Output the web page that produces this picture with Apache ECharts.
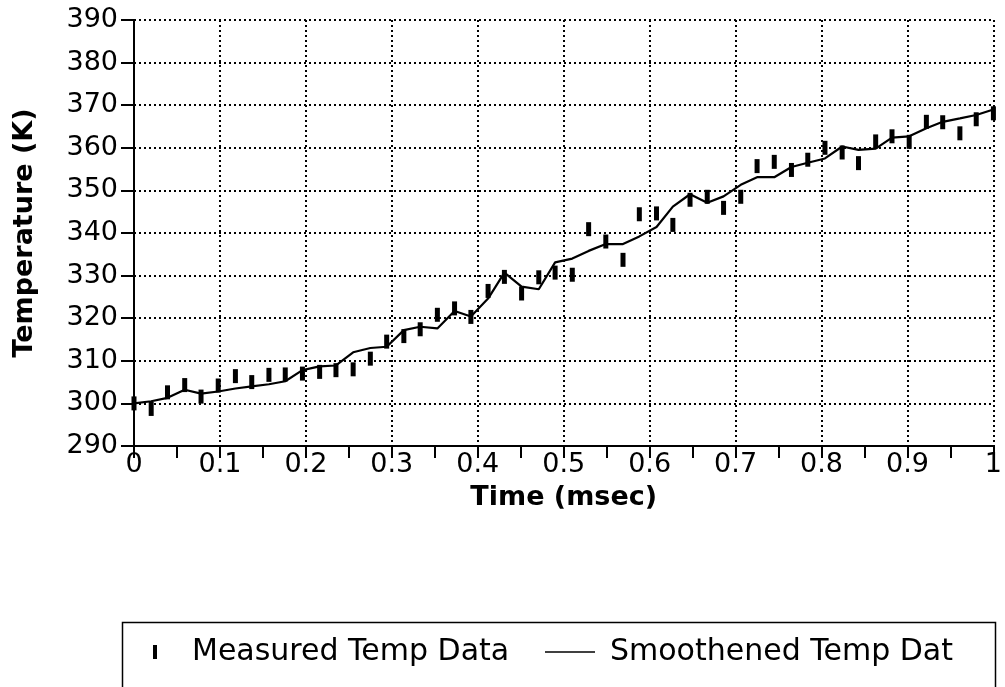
<!DOCTYPE html>
<html>
<head>
<meta charset="utf-8">
<script src="https://cdn.jsdelivr.net/npm/echarts@6/dist/echarts.min.js"></script>
<style>
html,body{margin:0;padding:0;background:#fff;}
#chart{width:1005px;height:687px;}
</style>
</head>
<body>
<div id="chart"></div>
<script>
// Time (msec) of each sample
const timeMs = [0.000,0.020,0.039,0.059,0.078,0.098,0.118,0.137,0.157,0.176,
  0.196,0.216,0.235,0.255,0.275,0.294,0.314,0.333,0.353,0.373,
  0.392,0.412,0.431,0.451,0.471,0.490,0.510,0.529,0.549,0.569,
  0.588,0.608,0.627,0.647,0.667,0.686,0.706,0.725,0.745,0.765,
  0.784,0.804,0.824,0.843,0.863,0.882,0.902,0.922,0.941,0.961,
  0.980,1.000];
// Measured temperature (K)
const measuredTemp = [300.0,298.7,302.6,304.3,301.6,304.2,306.4,305.0,306.7,306.8,
  307.0,307.4,307.8,308.0,310.5,314.5,315.8,317.4,320.8,322.3,
  320.3,326.4,329.7,325.8,329.6,330.7,330.2,340.9,338.0,333.7,
  344.4,344.6,341.9,347.8,348.5,345.9,348.5,355.7,356.7,354.8,
  357.2,360.0,358.9,356.4,361.5,362.7,361.4,366.1,366.0,363.4,
  366.7,368.1];
// Smoothened temperature (K)
const smoothTemp = [300.0,300.5,301.3,303.2,302.3,302.8,303.5,304.0,304.5,305.2,
  307.8,308.7,308.9,312.0,313.0,313.3,317.2,318.0,317.6,321.7,
  320.4,324.6,330.7,327.4,326.8,333.1,334.0,335.8,337.4,337.4,
  339.2,341.4,346.2,349.1,347.1,348.6,351.3,353.1,353.1,355.5,
  356.5,357.5,360.3,359.5,359.8,362.4,362.7,364.6,366.1,366.9,
  367.7,369.0];
const seriesNames = ['Measured Temp Data', 'Smoothened Temp Dat'];
const xAxisTitle = 'Time (msec)';
const yAxisTitle = 'Temperature (K)';

const measuredPts = timeMs.map((t, i) => [t, measuredTemp[i]]);
const smoothPts = timeMs.map((t, i) => [t, smoothTemp[i]]);

const chart = echarts.init(document.getElementById('chart'));
const gridLine = {show: true, lineStyle: {color: '#000', width: 2, type: [2, 3]}};
const labelFont = {color: '#000', fontFamily: 'DejaVu Sans', fontSize: 27};
const titleFont = {color: '#000', fontFamily: 'DejaVu Sans', fontWeight: 'bold', fontSize: 27};

chart.setOption({
  backgroundColor: '#fff',
  animation: false,
  grid: {left: 134, right: 1, top: 20, bottom: 241, containLabel: false},
  xAxis: {
    type: 'value', min: 0, max: 1, interval: 0.1,
    name: xAxisTitle, nameLocation: 'middle', nameGap: 38, nameTextStyle: titleFont,
    axisLine: {show: true, onZero: false, lineStyle: {color: '#000', width: 2}},
    axisTick: {show: true, length: 12, lineStyle: {color: '#000', width: 2}},
    minorTick: {show: true, splitNumber: 2, length: 12, lineStyle: {color: '#000', width: 2}},
    axisLabel: Object.assign({margin: 5}, labelFont),
    splitLine: gridLine
  },
  yAxis: {
    type: 'value', min: 290, max: 390, interval: 10,
    name: yAxisTitle, nameLocation: 'middle', nameGap: 96, nameTextStyle: titleFont,
    axisLine: {show: true, onZero: false, lineStyle: {color: '#000', width: 2}},
    axisTick: {show: true, length: 13, lineStyle: {color: '#000', width: 2}},
    axisLabel: Object.assign({margin: 16}, labelFont),
    splitLine: gridLine
  },
  legend: [
    {
      data: [{name: seriesNames[0], icon: 'path://M0,0H4V14H0Z'}],
      left: 153, top: 637, padding: 0,
      itemWidth: 4, itemHeight: 14, itemGap: 0,
      itemStyle: {color: '#000', opacity: 1},
      textStyle: {color: '#000', fontFamily: 'DejaVu Sans', fontSize: 30, padding: [0, 0, 0, 30]},
      selectedMode: false
    },
    {
      data: [{name: seriesNames[1], icon: 'path://M0,0H50V1.6H0Z'}],
      left: 545, top: 637, padding: 0,
      itemWidth: 50, itemHeight: 14, itemGap: 0,
      itemStyle: {color: '#000', opacity: 1},
      textStyle: {color: '#000', fontFamily: 'DejaVu Sans', fontSize: 30, padding: [0, 0, 0, 10]},
      selectedMode: false
    }
  ],
  graphic: [{
    type: 'rect', left: 120, top: 620, silent: true,
    shape: {width: 873, height: 100},
    style: {fill: 'none', stroke: '#000', lineWidth: 1.5}
  }],
  series: [
    {
      name: seriesNames[0], type: 'scatter', data: measuredPts,
      symbol: 'rect', symbolSize: [5, 14],
      itemStyle: {color: '#000', opacity: 1}, clip: false, z: 3
    },
    {
      name: seriesNames[1], type: 'line', data: smoothPts,
      symbol: 'none', showSymbol: false,
      lineStyle: {color: '#000', width: 2.2},
      itemStyle: {color: '#000'}, clip: false, z: 4
    }
  ]
});
</script>
</body>
</html>
